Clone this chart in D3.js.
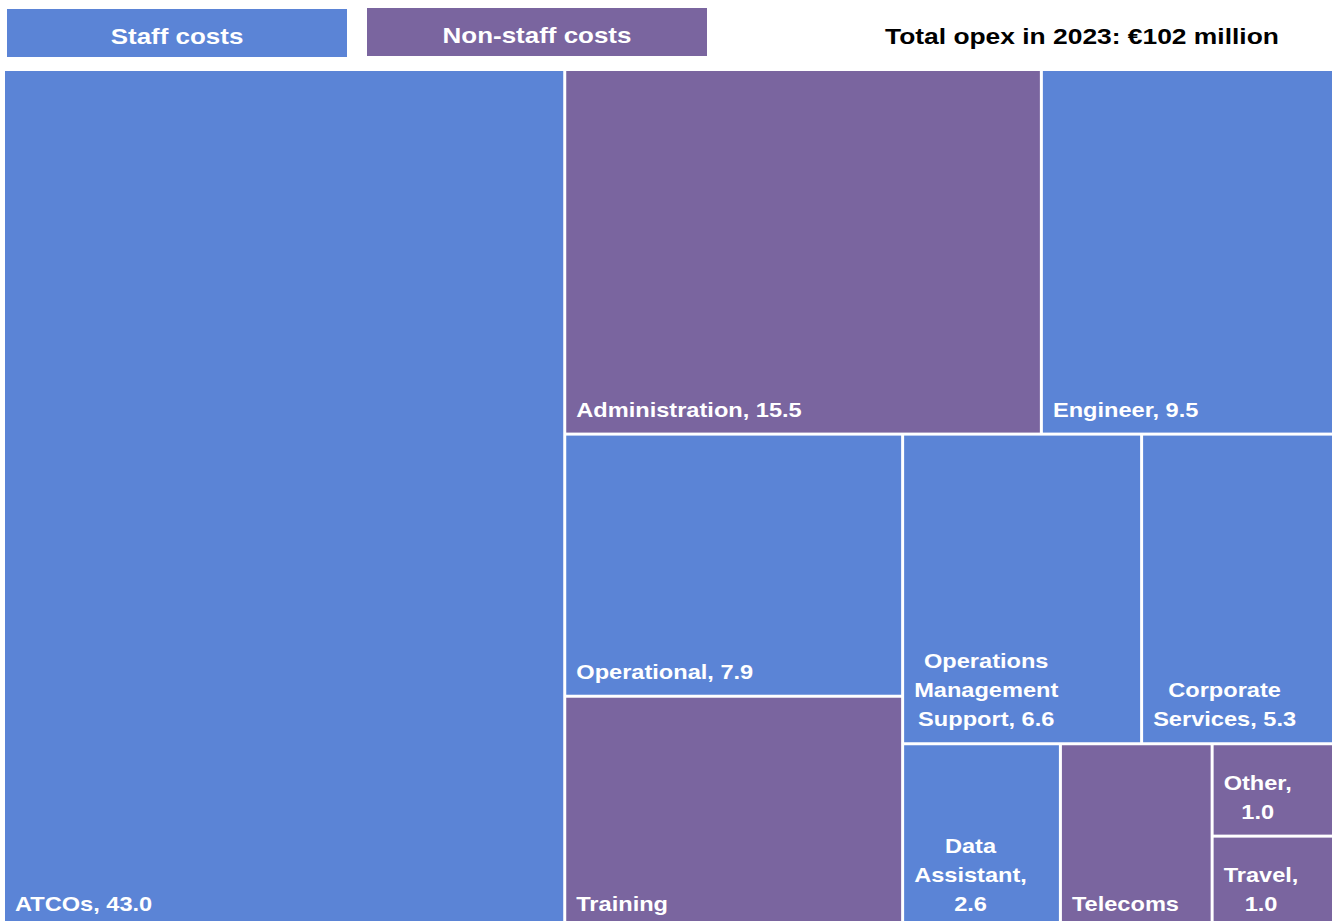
<!DOCTYPE html>
<html>
<head>
<meta charset="utf-8">
<script src="https://cdn.jsdelivr.net/npm/d3@7/dist/d3.min.js"></script>
<style>
  html, body { margin: 0; padding: 0; background: #fff; }
  svg { display: block; }
  text { font-family: "Liberation Sans", Arial, sans-serif; font-weight: bold; }
</style>
</head>
<body>
<svg id="chart" width="1333" height="921"></svg>
<script>
// Operating cost breakdown, € million
const categories = ["ATCOs", "Administration", "Engineer", "Operational", "Training",
  "Operations Management Support", "Corporate Services", "Data Assistant", "Telecoms", "Other", "Travel"];
const values = [43.0, 15.5, 9.5, 7.9, 7.0, 6.6, 5.3, 2.6, 2.5, 1.0, 1.0];
const costTypes = ["staff", "non-staff", "staff", "staff", "non-staff",
  "staff", "staff", "staff", "non-staff", "non-staff", "non-staff"];
const showValue = [true, true, true, true, false, true, true, true, false, true, true];

const legendLabels = ["Staff costs", "Non-staff costs"];
const legendKeys = ["staff", "non-staff"];
const titleText = "Total opex in 2023: €102 million";

const color = d3.scaleOrdinal().domain(legendKeys).range(["#5B84D6", "#7A659F"]);

const svg = d3.select("#chart");
const stretch = 1.18;   // wide text face
const fontSize = 20;
const lineHeight = 29;

// Legend boxes
const legendX = [7, 367];
const legend = svg.append("g");
legendKeys.forEach((k, i) => {
  const g = legend.append("g").attr("transform", `translate(${legendX[i]},${i === 0 ? 9 : 8})`);
  g.append("rect").attr("width", 340).attr("height", 48).attr("fill", color(k));
  g.append("text")
    .attr("transform", `translate(170,35) scale(${stretch},1)`)
    .attr("text-anchor", "middle")
    .attr("fill", "#fff")
    .attr("font-size", 22)
    .text(legendLabels[i]);
});

// Title
svg.append("text")
  .attr("transform", `translate(885,44) scale(1.2,1)`)
  .attr("font-size", 22)
  .attr("fill", "#000")
  .text(titleText);

// Treemap
const data = {
  name: "opex",
  children: categories.map((c, i) => ({ name: c, value: values[i], type: costTypes[i], show: showValue[i] }))
};

const root = d3.hierarchy(data)
  .sum(d => d.value || 0)
  .sort((a, b) => b.value - a.value);

const W = 1327, H = 856;
d3.treemap()
  .tile(d3.treemapSquarify.ratio(1))
  .size([W, H])
  .paddingInner(3)(root);

const plot = svg.append("g").attr("transform", "translate(5,71)");

const cells = plot.selectAll("g.cell")
  .data(root.leaves())
  .join("g")
  .attr("class", "cell");

cells.append("rect")
  .attr("x", d => d.x0)
  .attr("y", d => d.y0)
  .attr("width", d => d.x1 - d.x0)
  .attr("height", d => d.y1 - d.y0)
  .attr("fill", d => color(d.data.type));

// Text measurement helper
const measurer = svg.append("text").attr("font-size", fontSize).attr("visibility", "hidden");
function textWidth(s) {
  measurer.text(s);
  return measurer.node().getComputedTextLength() * stretch;
}

function wrapLines(label, maxWidth) {
  const words = label.split(" ");
  const lines = [];
  let line = words[0];
  for (let i = 1; i < words.length; i++) {
    const trial = line + " " + words[i];
    if (textWidth(trial) <= maxWidth) line = trial;
    else { lines.push(line); line = words[i]; }
  }
  lines.push(line);
  return lines;
}

cells.each(function(d) {
  const label = d.data.show ? `${d.data.name}, ${d.data.value.toFixed(1)}` : d.data.name;
  const w = d.x1 - d.x0;
  const lines = wrapLines(label, w - 40);
  const blockW = d3.max(lines, l => textWidth(l)) / stretch;
  const lastBaseline = d.y1 - 16;
  const t = d3.select(this).append("text")
    .attr("transform", `translate(${d.x0 + 10},${lastBaseline - (lines.length - 1) * lineHeight}) scale(${stretch},1)`)
    .attr("font-size", fontSize)
    .attr("fill", "#fff")
    .attr("text-anchor", "middle");
  lines.forEach((l, i) => {
    t.append("tspan").attr("x", blockW / 2).attr("y", i * lineHeight).text(l);
  });
});

measurer.remove();
</script>
</body>
</html>
